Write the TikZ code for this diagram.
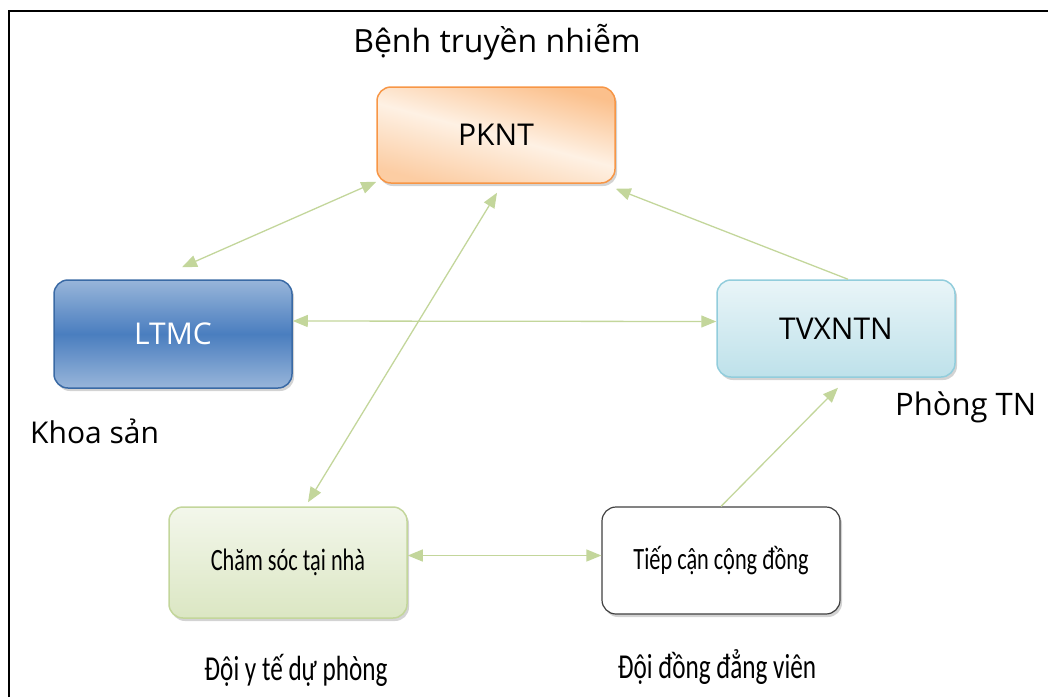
\documentclass[tikz,border=0pt]{standalone}
\usepackage{fontspec}
\setmainfont{Open Sans}
\newfontfamily\narrowfont[FakeStretch=0.72]{Carlito}
\usetikzlibrary{arrows.meta,shadows}
\definecolor{linkgreen}{HTML}{C3D69B}
\definecolor{pkntline}{HTML}{F79646}
\definecolor{pkntdark}{HTML}{FBC08C}
\definecolor{pkntlight}{HTML}{FEF1E4}
\definecolor{ltmcline}{HTML}{3A6AA5}
\definecolor{ltmcmid}{HTML}{4A7EBF}
\definecolor{ltmcedge}{HTML}{98B5DA}
\definecolor{tvxline}{HTML}{92CDDC}
\definecolor{csline}{HTML}{C3D69B}
\newcommand{\bigtxt}{\fontsize{30}{36}\selectfont}
\newcommand{\smalltxt}{\narrowfont\fontsize{31}{36}\selectfont}
\newcommand{\lowtxt}{\narrowfont\fontsize{35}{40}\selectfont}

\begin{document}
\begin{tikzpicture}[x=1pt,y=-1pt,
  box/.style={rounded corners=14pt, minimum width=238pt, inner sep=0pt, line width=1.5pt,
    drop shadow={shadow xshift=2pt, shadow yshift=-3pt, opacity=0.35}},
  link/.style={draw=linkgreen, line width=1.3pt, -{Triangle[length=15pt,width=12pt]}},
  both/.style={link, {Triangle[length=15pt,width=12pt]}-{Triangle[length=15pt,width=12pt]}},
  lbl/.style={anchor=base, inner sep=0pt}]
\useasboundingbox (0,0) rectangle (1048,697);
\draw[line width=2.5pt] (9,697) -- (9,11) -- (1048,11);
\node[box, draw=pkntline, minimum height=96pt, top color=pkntdark, bottom color=pkntdark!80, middle color=pkntlight, shading angle=-15, font=\bigtxt] (pknt) at (496,135) {PKNT};
\node[box, draw=ltmcline, minimum height=108pt, top color=ltmcedge, bottom color=ltmcedge, middle color=ltmcmid, text=white, font=\bigtxt] (ltmc) at (173,334) {LTMC};
\node[box, draw=tvxline, minimum height=97pt, top color=tvxline!20, bottom color=tvxline!60, font=\bigtxt] (tvx) at (836,328.5) {TVXNTN};
\node[box, draw=csline, minimum height=111pt, top color=csline!20, bottom color=csline!60, font=\smalltxt] (chamsoc) at (288,562.5) {Chăm sóc tại nhà};
\node[box, draw=black!75, line width=1.2pt, minimum height=107pt, fill=white, drop shadow={opacity=0}, font=\smalltxt] (tiepcan) at (721,560.5) {Tiếp cận cộng đồng};
\node[lbl, font=\fontsize{32}{38}\selectfont] (benh) at (497,52) {Bệnh truyền nhiễm};
\node[lbl, font=\bigtxt, anchor=base west] (khoasan) at (30,443) {Khoa sản};
\node[lbl, font=\fontsize{31}{36}\selectfont, anchor=base west] (phongtn) at (895,415) {Phòng TN};
\node[lbl, font=\lowtxt] (doiyte) at (296,680) {Đội y tế dự phòng};
\node[lbl, font=\lowtxt] (doidd) at (717,678) {Đội đồng đẳng viên};
\draw[both] ([shift={(9,-12)}]ltmc.north) -- ([shift={(0,-2)}]pknt.south west);
\draw[both] ([shift={(20,-4)}]chamsoc.north) -- ([shift={(1,9)}]pknt.south);
\draw[link] ([shift={(12,0)}]tvx.north) -- ([shift={(0,5)}]pknt.south east);
\draw[both] ([shift={(0,-13)}]ltmc.east) -- ([shift={(0,-7)}]tvx.west);
\draw[both] ([shift={(0,-7)}]chamsoc.east) -- ([shift={(0,-5)}]tiepcan.west);
\draw[link] (tiepcan.north) -- ([shift={(2,10)}]tvx.south);
\end{tikzpicture}
\end{document}
